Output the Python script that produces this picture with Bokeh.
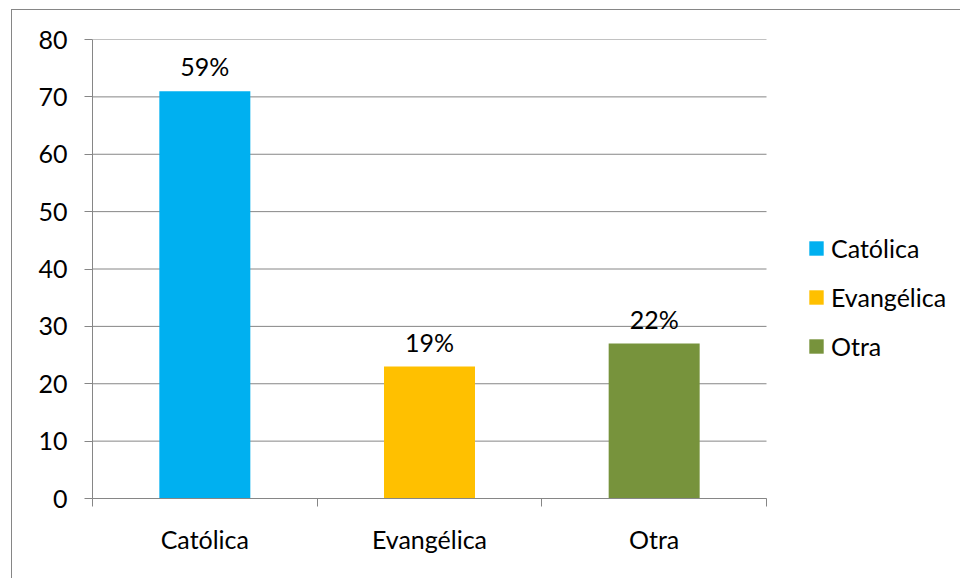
from bokeh.plotting import figure
from bokeh.models import (ColumnDataSource, FixedTicker, Legend, LegendItem,
                          Range1d, InlineStyleSheet)
from bokeh.core.properties import value
from bokeh.embed import file_html
from bokeh.resources import INLINE

# ---- data ----
categories = ["Católica", "Evangélica", "Otra"]
counts = [71, 23, 27]
pct_labels = ["59%", "19%", "22%"]
bar_colors = ["#00B0F0", "#FFC000", "#77933C"]
y_ticks = [0, 10, 20, 30, 40, 50, 60, 70, 80]

FONT = "Lato"
FSIZE = "25px"
GRAY = "#868686"

W, H = 960, 578
BL, BR, BT, BB = 92, 10, 39, 80
AXIS_PX = 674          # pixel length of the category axis
n = len(categories)
xs = list(range(n))
boundaries = [i - 0.5 for i in range(n + 1)]
frame_w = W - BL - BR
x_end = -0.5 + frame_w / (AXIS_PX / n)   # frame extends right to host the legend

p = figure(width=W, height=H, output_backend="svg", toolbar_location=None,
           x_range=Range1d(-0.5, x_end), y_range=Range1d(0, 80),
           min_border_left=BL, min_border_right=BR, min_border_top=BT,
           min_border_bottom=BB)
p.outline_line_color = None
p.background_fill_color = "white"
p.border_fill_color = "white"

# horizontal gridlines limited to the category axis extent
p.xgrid.visible = False
p.ygrid.visible = False
p.segment(x0=[boundaries[0]] * len(y_ticks), x1=[boundaries[-1]] * len(y_ticks),
          y0=y_ticks, y1=y_ticks, line_color=GRAY, line_width=1)

src = ColumnDataSource(dict(xpos=xs, top=counts, fillc=bar_colors,
                            cat=categories, pct=pct_labels))
bars = p.vbar(x="xpos", top="top", width=0.405, fill_color="fillc",
              line_color=None, source=src)

p.text(x="xpos", y="top", text="pct", source=src, text_align="center",
       text_baseline="middle", y_offset=-25, text_font=value(FONT),
       text_font_size=FSIZE, text_color="black")

# x axis
xa = p.xaxis[0]
xa.bounds = (boundaries[0], boundaries[-1])
xa.ticker = FixedTicker(ticks=xs, minor_ticks=boundaries)
xa.major_label_overrides = {i: c for i, c in zip(xs, categories)}
xa.major_tick_line_color = None
xa.major_tick_out = 8
xa.major_tick_in = 0
xa.minor_tick_line_color = GRAY
xa.minor_tick_out = 8
xa.minor_tick_in = 0
xa.axis_line_color = GRAY
xa.major_label_standoff = 17
xa.major_label_text_font = FONT
xa.major_label_text_font_size = FSIZE
xa.major_label_text_color = "black"

# y axis
ya = p.yaxis[0]
ya.ticker = FixedTicker(ticks=y_ticks, minor_ticks=[])
ya.major_tick_out = 8
ya.major_tick_in = 0
ya.major_tick_line_color = GRAY
ya.minor_tick_line_color = None
ya.axis_line_color = GRAY
ya.major_label_standoff = 17
ya.major_label_text_font = FONT
ya.major_label_text_font_size = FSIZE
ya.major_label_text_color = "black"

# legend (inside the frame, to the right of the bars)
items = [LegendItem(label=value(c), renderers=[bars], index=i)
         for i, c in enumerate(categories)]
legend = Legend(items=items, location=(715, 137), orientation="vertical",
                padding=0, margin=0, spacing=19, glyph_width=18, glyph_height=18,
                label_standoff=6, label_height=30, border_line_color=None,
                background_fill_alpha=0, label_text_font=FONT,
                label_text_font_size=FSIZE, label_text_color="black")
p.add_layout(legend)

# outer chart border (only top and left edges are visible in the reference)
p.stylesheets = [InlineStyleSheet(css="""
:host { position: relative; }
:host::after {
  content: "";
  position: absolute;
  left: 11px; top: 9px; right: 0px; bottom: 0px;
  border-top: 1.5px solid #868686;
  border-left: 1.5px solid #868686;
  pointer-events: none;
}
""")]

open("out.html", "w").write(file_html(p, INLINE))
